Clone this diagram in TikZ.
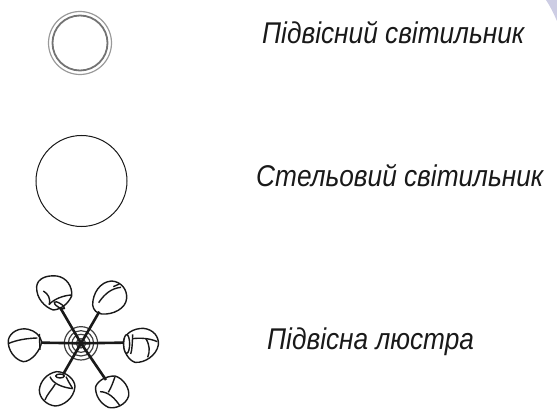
\documentclass[tikz,border=0pt]{standalone}
\usepackage{fontspec}
\setmainfont[FakeStretch=0.875]{Liberation Sans}
\tikzset{
 lab/.style={anchor=base west,inner sep=0pt,font=\itshape\fontsize{30}{34}\selectfont,text=black!90},
 lampline/.style={draw=black!90,line width=1.4pt,line join=round},
 hubline/.style={draw=black!75,line width=1.2pt},
 arm/.style={draw=black!90,line width=2.6pt},
}
\begin{document}
\begin{tikzpicture}[x=1pt,y=-1pt]
\useasboundingbox (0,0) rectangle (557,417);
\fill[blue!30!gray!30] (546,0) -- (557,0) -- (557,21) .. controls (553,12) and (550,6) .. (546,0);
% pendant lamp
\draw[draw=black!40,line width=1.2pt] (80,43) circle (31.5);
\draw[draw=black!55,line width=1.8pt] (80,43) circle (27.5);
% ceiling lamp
\draw[draw=black!90,line width=1pt] (81.5,181) circle (45.5);
% labels
\node[lab] (a) at (262,44) {Підвісний світильник};
\node[lab] (b) at (256,186.5) {Стельовий світильник};
\node[lab] (c) at (267,349) {Підвісна люстра};
% chandelier, in coordinates of a 3x zoomed crop
\begin{scope}[shift={(0,270)},x=0.3333pt,y=-0.3333pt]
\foreach \r in {50,38,27,14} \draw[hubline] (243,220) circle (\r);
\draw[arm] (243,220) -- (125,218);
\draw[arm] (243,220) -- (370,218);
\draw[arm] (243,220) -- (180,112);
\draw[arm] (243,220) -- (298,125);
\draw[arm] (243,220) -- (190,312);
\draw[arm] (243,220) -- (318,330);
\fill[black!90] (243,220) circle (9);
% top left
\draw[lampline] (110,50) .. controls (112,25) and (140,15) .. (170,18) .. controls (200,22) and (218,50) .. (215,78) .. controls (205,100) and (185,118) .. (160,120) .. controls (135,112) and (108,85) .. (110,50);
\draw[lampline] (215,75) .. controls (190,76) and (160,88) .. (147,104);
\draw[lampline,rotate around={-32:(178,106)}] (178,106) ellipse (18 and 6);
\draw[lampline] (130,63) .. controls (145,72) and (152,85) .. (148,104);
% top right
\draw[lampline] (278,105) .. controls (278,70) and (300,35) .. (335,33) .. controls (365,35) and (382,60) .. (380,85) .. controls (378,115) and (340,135) .. (305,132) .. controls (290,130) and (280,120) .. (278,105);
\draw[lampline] (296,98) .. controls (315,70) and (335,55) .. (363,52);
\draw[lampline] (340,50) -- (358,42);
% right
\draw[lampline] (370,215) .. controls (375,190) and (400,175) .. (430,175) .. controls (460,178) and (478,200) .. (475,225) .. controls (470,255) and (435,280) .. (405,277) .. controls (385,270) and (370,245) .. (370,215);
\draw[lampline,fill=white] (380,222) ellipse (9 and 28);
\draw[lampline] (398,193) .. controls (397,215) and (397,240) .. (392,252);
\draw[lampline] (398,206) .. controls (420,203) and (450,205) .. (472,215);
\draw[lampline] (437,205) .. controls (450,225) and (450,245) .. (443,262);
% left
\draw[lampline] (25,210) .. controls (30,185) and (60,172) .. (85,178) .. controls (105,183) and (120,195) .. (125,215) .. controls (122,240) and (95,275) .. (70,275) .. controls (45,270) and (22,240) .. (25,210);
\draw[lampline] (27,220) .. controls (50,210) and (80,205) .. (112,204);
\draw[lampline] (118,192) -- (120,240);
% bottom left
\draw[lampline] (118,360) .. controls (120,335) and (140,310) .. (170,305) .. controls (200,305) and (225,330) .. (225,350) .. controls (222,385) and (190,408) .. (165,408) .. controls (140,405) and (118,385) .. (118,360);
\draw[lampline] (180,318) ellipse (13 and 6);
\draw[lampline] (150,320) .. controls (158,340) and (185,352) .. (218,356);
\draw[lampline] (198,320) .. controls (205,335) and (212,345) .. (218,356);
\draw[lampline] (166,342) .. controls (155,360) and (140,375) .. (135,390);
% bottom right
\draw[lampline] (287,350) .. controls (295,330) and (320,318) .. (345,318) .. controls (370,325) and (390,355) .. (386,378) .. controls (378,405) and (345,418) .. (325,412) .. controls (300,400) and (285,375) .. (287,350);
\draw[lampline] (300,365) .. controls (325,365) and (345,385) .. (360,408);
\draw[lampline] (325,367) .. controls (335,350) and (340,335) .. (345,320);
\end{scope}
\end{tikzpicture}
\end{document}
